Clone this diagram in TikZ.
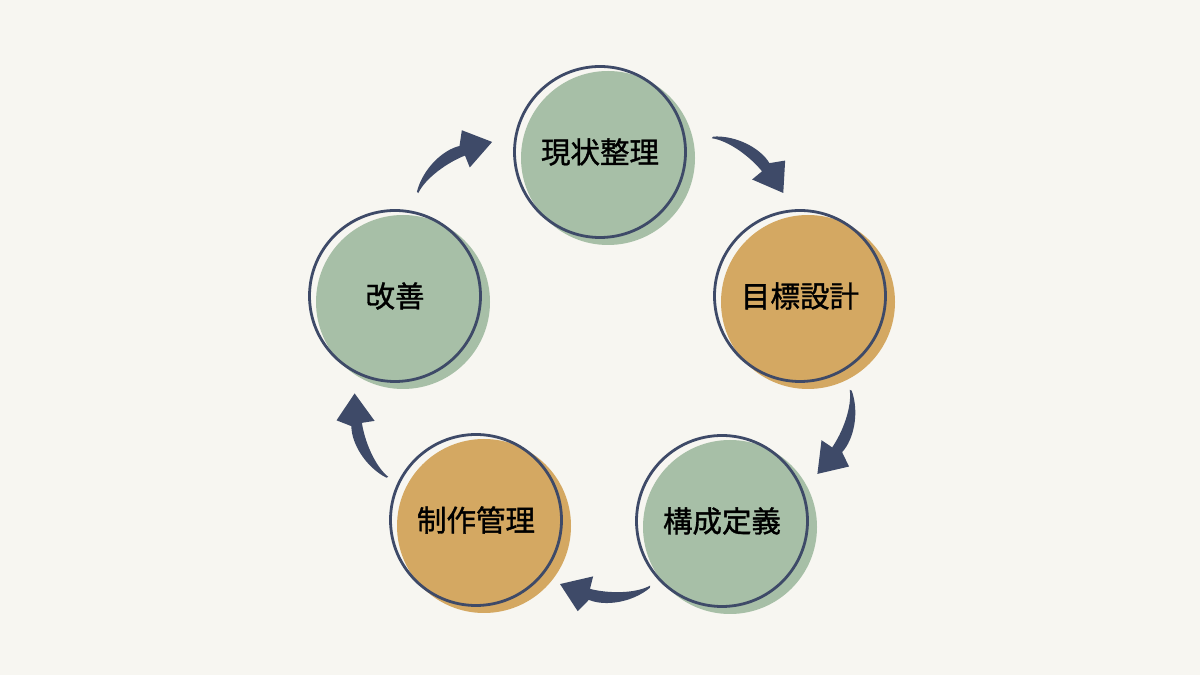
\documentclass[tikz,border=0pt]{standalone}
\usepackage{fontspec}
\newfontfamily\jp[FakeBold=1.2]{Noto Sans CJK JP}
\definecolor{bg}{HTML}{F7F6F1}
\definecolor{sage}{HTML}{A7BFA7}
\definecolor{ochre}{HTML}{D4A862}
\definecolor{navy}{HTML}{3E4A68}
\tikzset{
  stage/.style={circle, draw=navy, line width=2.8pt, minimum size=171pt, inner sep=0pt,
    text=black, font=\jp\fontsize{29.5pt}{34pt}\selectfont},
  flowarrow/.pic={
    \fill[navy] (0,-0.3) .. controls (15,8) and (42,8) .. (60,3.5) -- (57,-9) -- (90,-1)
      -- (72,26) -- (61,14.5) .. controls (45,21) and (18,17) .. (0,1.8) -- cycle;
  }
}
\begin{document}
\begin{tikzpicture}[x=1pt,y=1pt]
\fill[bg] (0,0) rectangle (1200,675);
\useasboundingbox (0,0) rectangle (1200,675);
% centres
\coordinate (pa) at (600,523);
\coordinate (pb) at (800,379);
\coordinate (pc) at (722,154);
\coordinate (pd) at (476,155);
\coordinate (pe) at (395,379);
% offset fills
\fill[sage]  ([shift={(8,-6)}]pa) circle (87);
\fill[ochre] ([shift={(8,-6)}]pb) circle (87);
\fill[sage]  ([shift={(8,-6)}]pc) circle (87);
\fill[ochre] ([shift={(8,-6)}]pd) circle (87);
\fill[sage]  ([shift={(8,-6)}]pe) circle (87);
% outlined stages
\node[stage] (a) at (pa) {現状整理};
\node[stage] (b) at (pb) {目標設計};
\node[stage] (c) at (pc) {構成定義};
\node[stage] (d) at (pd) {制作管理};
\node[stage] (e) at (pe) {改善};
% arrows
\coordinate (t1) at (418,482);
\coordinate (t2) at (712,537);
\coordinate (t3) at (850,285);
\coordinate (t4) at (650,89);
\coordinate (t5) at (388,198);
\pic[rotate=35.2] at (t1) {flowarrow};
\pic[rotate=-37] at (t2) {flowarrow};
\pic[rotate=-110.6] at (t3) {flowarrow};
\pic[rotate=179.4] at (t4) {flowarrow};
\pic[rotate=112.4] at (t5) {flowarrow};
\end{tikzpicture}
\end{document}
